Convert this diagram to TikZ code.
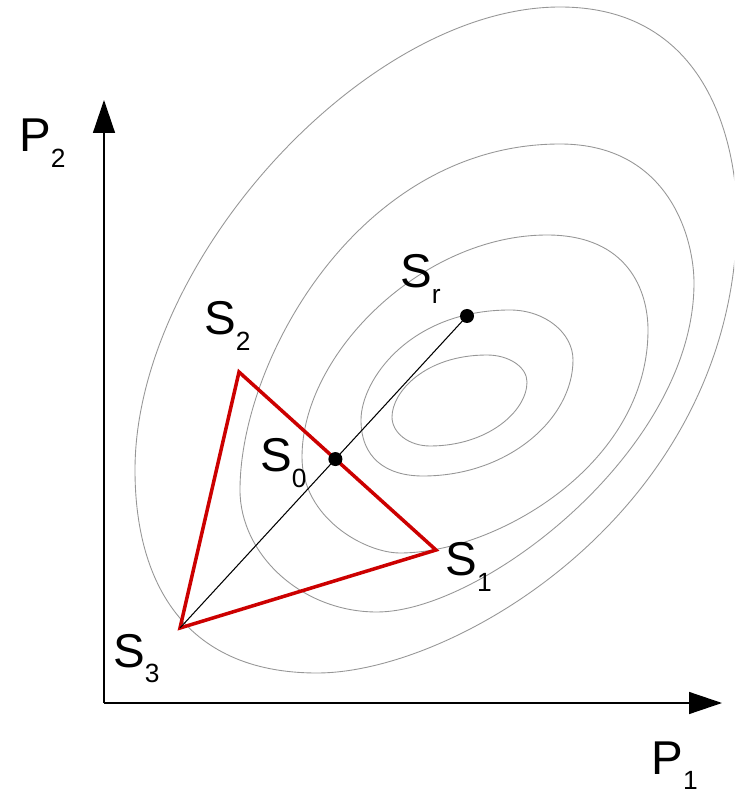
\documentclass[tikz,border=0pt]{standalone}
\usepackage{fontspec}
\setmainfont{Liberation Sans}
\usepackage{tikz}
\usetikzlibrary{arrows.meta}
\definecolor{simplexred}{RGB}{204,0,0}
\definecolor{levelgray}{RGB}{150,150,150}
% symbol with a lowered index
\newcommand{\lbl}[2]{#1\raisebox{-9pt}{\fontsize{15}{15}\selectfont #2}}

\begin{document}
\begin{tikzpicture}[
    level/.style={levelgray, line width=0.5pt},
    axis/.style={line width=0.8pt, -{Triangle[length=0.66cm, width=0.44cm]}},
    simplex/.style={simplexred, line width=2pt},
    tag/.style={font=\fontsize{27}{27}\selectfont, inner sep=0pt, anchor=base west},
    dot/.style={fill=black}
]
\useasboundingbox (-2.08, -1.84) rectangle (12.6, 14.06);
\clip (-2.08, -1.84) rectangle (12.6, 14.06);

% Level curves (left, top, right, bottom)
\draw[level] (5.76,5.72) .. controls (5.76,6.22) and (6.42,6.96) .. (7.66,6.96)
    .. controls (8.10,6.96) and (8.46,6.72) .. (8.46,6.42)
    .. controls (8.46,5.84) and (7.68,5.14) .. (6.52,5.14)
    .. controls (6.10,5.14) and (5.76,5.40) .. cycle;
\draw[level] (5.14,5.66) .. controls (5.14,6.46) and (6.12,7.86) .. (8.12,7.86)
    .. controls (8.81,7.86) and (9.38,7.41) .. (9.38,6.86)
    .. controls (9.38,5.69) and (8.09,4.54) .. (6.38,4.54)
    .. controls (5.63,4.54) and (5.14,4.91) .. cycle;
\draw[level] (3.96,4.92) .. controls (3.96,7.00) and (6.38,9.36) .. (8.86,9.36)
    .. controls (10.49,9.36) and (10.88,8.23) .. (10.88,7.46)
    .. controls (10.88,4.77) and (7.84,3.00) .. (5.92,3.00)
    .. controls (5.23,3.00) and (3.96,3.69) .. cycle;
\draw[level] (2.72,4.26) .. controls (2.72,6.87) and (5.12,11.18) .. (9.12,11.18)
    .. controls (11.31,11.18) and (11.80,9.28) .. (11.80,8.40)
    .. controls (11.80,5.07) and (7.57,1.82) .. (5.46,1.82)
    .. controls (3.94,1.82) and (2.72,2.98) .. cycle;
\draw[level] (0.62,4.66) .. controls (0.62,8.85) and (5.25,13.92) .. (9.12,13.92)
    .. controls (12.51,13.92) and (12.66,10.35) .. (12.66,9.76)
    .. controls (12.66,3.95) and (7.09,0.60) .. (4.26,0.60)
    .. controls (1.54,0.60) and (0.62,2.50) .. cycle;

% Axes
\coordinate (O) at (0, 0);
\coordinate (P1end) at (12.36, 0);
\coordinate (P2end) at (0, 12.06);
\draw[axis] (O) -- (P1end);
\draw[axis] (O) -- (P2end);
\node[tag] (P1) at (10.94, -1.42) {\lbl{P}{1}};
\node[tag] (P2) at (-1.70, 11.02) {\lbl{P}{2}};

% Simplex points
\coordinate (S1) at (6.64, 3.06);
\coordinate (S2) at (2.70, 6.62);
\coordinate (S3) at (1.52, 1.50);
\coordinate (Sr) at (7.26, 7.74);
\coordinate (S0) at (intersection of S3--Sr and S2--S1);

% Simplex
\draw[simplex] (S3) -- (S2) -- (S1) -- cycle;

% Reflection line
\draw[line width=0.6pt] (S3) -- (Sr);
\fill[dot] (S0) circle (0.14);
\fill[dot] (Sr) circle (0.14);

% Labels
\node[tag] (S1lbl) at (6.82, 2.54) {\lbl{S}{1}};
\node[tag] (S2lbl) at (2.00, 7.36) {\lbl{S}{2}};
\node[tag] (S3lbl) at (0.18, 0.72) {\lbl{S}{3}};
\node[tag] (S0lbl) at (3.12, 4.62) {\lbl{S}{0}};
\node[tag] (Srlbl) at (5.92, 8.30) {\lbl{S}{r}};

\end{tikzpicture}
\end{document}
